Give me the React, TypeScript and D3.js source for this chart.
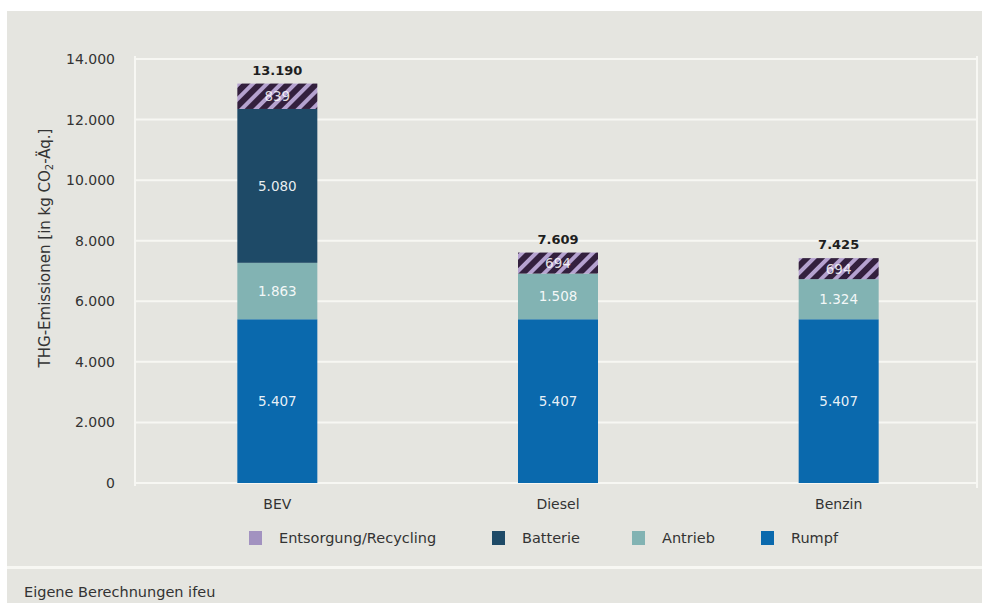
import React from "react";
import * as d3 from "d3";

const categories = ["BEV", "Diesel", "Benzin"];
const seriesNames = ["Rumpf", "Antrieb", "Batterie", "Entsorgung/Recycling"];
const rumpf = [5407, 5407, 5407];
const antrieb = [1863, 1508, 1324];
const batterie = [5080, 0, 0];
const entsorgung = [839, 694, 694];
const totals = [13190, 7609, 7425];
const yTicks = [0, 2000, 4000, 6000, 8000, 10000, 12000, 14000];
const legendOrder = ["Entsorgung/Recycling", "Batterie", "Antrieb", "Rumpf"];

const colors: Record<string, string> = {
  Rumpf: "#0a69ad",
  Antrieb: "#82b3b3",
  Batterie: "#1e4a67",
  "Entsorgung/Recycling": "url(#hatch)",
};
const legendColors: Record<string, string> = {
  Rumpf: "#0a69ad",
  Antrieb: "#82b3b3",
  Batterie: "#1e4a67",
  "Entsorgung/Recycling": "#a292c0",
};

const fmt = (v: number) => d3.format(",")(v).replace(/,/g, ".");

export default function App() {
  const W = 982, H = 603;
  const x0 = 135, x1 = 977;
  const y = d3.scaleLinear().domain([0, 14000]).range([483, 59]);
  const x = d3.scaleBand().domain(categories).range([x0 + 2, x1 + 2]).paddingInner(0.715).paddingOuter(0.3575);
  const data = categories.map((c, i) => ({
    cat: c,
    Rumpf: rumpf[i],
    Antrieb: antrieb[i],
    Batterie: batterie[i],
    "Entsorgung/Recycling": entsorgung[i],
  }));
  const stacked = d3.stack<any>().keys(seriesNames)(data);
  const font = "'DejaVu Sans', sans-serif";
  const legendX = [249, 492, 632, 761];

  return (
    <div style={{ position: "absolute", left: 0, top: 0 }}>
      <svg width={W} height={H} style={{ display: "block", fontFamily: font }}>
        <defs>
          <pattern id="hatch" patternUnits="userSpaceOnUse" width="10" height="10" patternTransform="rotate(45)">
            <rect width="10" height="10" fill="#b5a2d0" />
            <rect width="6" height="10" fill="#33203e" />
          </pattern>
        </defs>
        <rect x={0} y={0} width={W} height={H} fill="#ffffff" />
        <rect x={7} y={11} width={W - 7} height={H - 11} fill="#e5e5e0" />
        {/* grid */}
        {yTicks.map((t) => (
          <line key={t} x1={x0} x2={x1} y1={y(t)} y2={y(t)} stroke="#f7f7f3" strokeWidth={2} />
        ))}
        <line x1={x0} x2={x0} y1={y(14000) - 3} y2={y(0) + 3} stroke="#f7f7f3" strokeWidth={2} />
        <line x1={x1} x2={x1} y1={y(14000) - 3} y2={y(0) + 5} stroke="#f7f7f3" strokeWidth={2} />
        {/* y tick labels */}
        {yTicks.map((t) => (
          <text key={t} x={115} y={y(t) + 5} textAnchor="end" fontSize={14} fill="#333">
            {fmt(t)}
          </text>
        ))}
        <text transform={`translate(50,${248}) rotate(-90)`} textAnchor="middle" fontSize={15} fill="#333">
          THG-Emissionen [in kg CO
          <tspan fontSize={10} dy={3}>2</tspan>
          <tspan dy={-3}>-Äq.]</tspan>
        </text>
        {/* bars */}
        {stacked.map((s) => (
          <g key={s.key}>
            {s.map((d, i) => {
              const v = d[1] - d[0];
              if (v <= 0) return null;
              const bx = x(categories[i])!;
              const top = y(d[1]);
              const h = y(d[0]) - y(d[1]);
              return (
                <g key={i}>
                  <rect x={bx} y={top} width={x.bandwidth()} height={h} fill={colors[s.key]} />
                  <text
                    x={bx + x.bandwidth() / 2}
                    y={top + h / 2 + 5}
                    textAnchor="middle"
                    fontSize={13.5}
                    fill="#ffffff"
                    fillOpacity={s.key === "Entsorgung/Recycling" ? 0.85 : 0.92}
                  >
                    {fmt(v)}
                  </text>
                </g>
              );
            })}
          </g>
        ))}
        {/* totals */}
        {categories.map((c, i) => (
          <text key={c} x={x(c)! + x.bandwidth() / 2} y={y(totals[i]) - 9} textAnchor="middle" fontSize={13} fontWeight="bold" fill="#1e1e1e">
            {fmt(totals[i])}
          </text>
        ))}
        {/* x labels */}
        {categories.map((c) => (
          <text key={c} x={x(c)! + x.bandwidth() / 2} y={509} textAnchor="middle" fontSize={14} fill="#333">
            {c}
          </text>
        ))}
        {/* legend */}
        {legendOrder.map((k, i) => (
          <g key={k}>
            <rect x={legendX[i]} y={531} width={13} height={14} fill={legendColors[k]} />
            <text x={legendX[i] + 30} y={543} fontSize={14.5} fill="#333">
              {k}
            </text>
          </g>
        ))}
        {/* footer */}
        <rect x={7} y={566} width={W - 7} height={3} fill="#f7f7f3" />
        <text x={24} y={597} fontSize={14.5} fill="#333">
          Eigene Berechnungen ifeu
        </text>
      </svg>
    </div>
  );
}
